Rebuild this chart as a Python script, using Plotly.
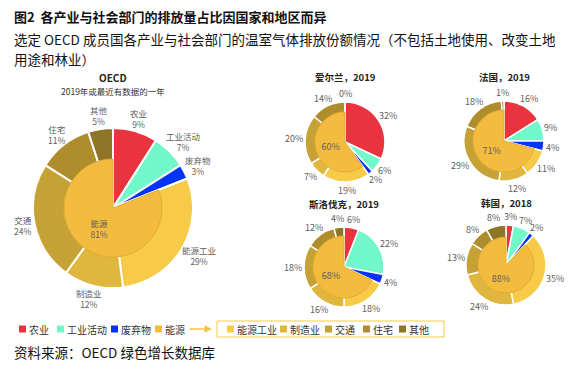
import math
import plotly.graph_objects as go

W, H = 580, 370
OFF = 8  # page body margin in the browser

cats_direct = ["农业", "工业活动", "废弃物"]
energy_name = "能源"
cats_energy = ["能源工业", "制造业", "交通", "住宅", "其他"]

oecd_direct = [9, 7, 3]
oecd_energy = [29, 12, 24, 11, 5]
ireland_direct = [32, 6, 2]
ireland_energy = [19, 7, 20, 14, 0]
france_direct = [16, 9, 4]
france_energy = [11, 12, 29, 18, 1]
slovakia_direct = [6, 22, 4]
slovakia_energy = [18, 16, 18, 12, 4]
korea_direct = [3, 7, 2]
korea_energy = [35, 24, 13, 8, 8]

col_direct = ["#E9333F", "#72F7CB", "#0433F6"]
col_energy_inner = "#F4BC3F"
col_energy = ["#F7CB47", "#E0B73E", "#C6A236", "#AF8D2D", "#8F7527"]

FONT = "Noto Sans CJK SC"
TXT = "#5E5E5E"

charts = [
    dict(title="OECD", direct=oecd_direct, energy=oecd_energy, cx=113, cy=208, r=80, ri=49, names=True, ty=77),
    dict(title="爱尔兰，2019", direct=ireland_direct, energy=ireland_energy, cx=345, cy=142, r=40, ri=30, names=False, ty=77),
    dict(title="法国，2019", direct=france_direct, energy=france_energy, cx=504, cy=141, r=40, ri=31, names=False, ty=77),
    dict(title="斯洛伐克，2019", direct=slovakia_direct, energy=slovakia_energy, cx=344, cy=267, r=40, ri=31, names=False, ty=204),
    dict(title="韩国，2018", direct=korea_direct, energy=korea_energy, cx=506, cy=265, r=40, ri=28, names=False, ty=203),
]


def px(x):
    return (x - OFF) / W


def py(y):
    return 1 - (y - OFF) / H


def dom(cx, cy, r):
    return dict(x=[px(cx - r), px(cx + r)], y=[py(cy + r), py(cy - r)])


def text_box(lines, fs):
    w = max(sum(fs if ord(ch) > 255 else 0.6 * fs for ch in ln) for ln in lines)
    h = len(lines) * fs * 1.25
    return w, h


fig = go.Figure()
annotations = []
shapes = []

for c in charts:
    outer_vals = c["direct"] + c["energy"]
    outer_labels = cats_direct + cats_energy
    fs = 8.5 if c["names"] else 9
    fig.add_trace(go.Pie(
        values=outer_vals, labels=outer_labels,
        textinfo="none", sort=False, direction="clockwise",
        rotation=0, domain=dom(c["cx"], c["cy"], c["r"]),
        marker=dict(colors=col_direct + col_energy,
                    line=dict(color="white", width=2 if c["names"] else 1.5)),
        showlegend=False, hoverinfo="label+percent",
    ))
    # outside labels at each slice's mid-angle
    total = sum(outer_vals)
    cum = 0
    gap = 3
    for n, v in zip(outer_labels, outer_vals):
        mid = (cum + v / 2) / total * 2 * math.pi
        cum += v
        dx, dy = math.sin(mid), -math.cos(mid)
        lines = [n, f"{v}%"] if c["names"] else [f"{v}%"]
        w, h = text_box(lines, fs)
        lx = c["cx"] + dx * (c["r"] + gap) + dx * w / 2
        ly = c["cy"] + dy * (c["r"] + gap) + dy * h / 2
        annotations.append(dict(x=px(lx), y=py(ly), text="<br>".join(lines), showarrow=False,
                                xanchor="center", yanchor="middle",
                                font=dict(family=FONT, size=fs, color=TXT)))
    etot = sum(c["energy"])
    inner_vals = c["direct"] + [etot]
    inner_labels = cats_direct + [energy_name]
    inner_text = ["", "", "", (f"{energy_name}<br>{etot}%" if c["names"] else f"{etot}%")]
    fig.add_trace(go.Pie(
        values=inner_vals, labels=inner_labels, text=inner_text,
        textinfo="text", textposition=["none", "none", "none", "inside"],
        insidetextorientation="horizontal",
        sort=False, direction="clockwise", rotation=0,
        domain=dom(c["cx"], c["cy"], c["ri"]),
        marker=dict(colors=["rgba(0,0,0,0)"] * 3 + [col_energy_inner],
                    line=dict(color=["rgba(0,0,0,0)"] * 3 + ["#E2AC36"], width=[0, 0, 0, 1])),
        textfont=dict(family=FONT, size=fs, color=TXT),
        showlegend=False, hoverinfo="label+percent",
    ))
    if c["names"]:
        annotations.append(dict(x=px(c["cx"]), y=py(77), text="<b>OECD</b>", showarrow=False,
                                font=dict(family=FONT, size=10, color="#222"), xanchor="center", yanchor="middle"))
        annotations.append(dict(x=px(c["cx"]), y=py(91), text="2019年或最近有数据的一年", showarrow=False,
                                font=dict(family=FONT, size=8.5, color="#333"), xanchor="center", yanchor="middle"))
    else:
        annotations.append(dict(x=px(c["cx"]), y=py(c["ty"]), text=f"<b>{c['title']}</b>", showarrow=False,
                                font=dict(family=FONT, size=9.5, color="#222"), xanchor="center", yanchor="middle"))

# Title / subtitle / source
annotations.append(dict(x=px(12), y=py(17), text="<b>图2  各产业与社会部门的排放量占比因国家和地区而异</b>",
                        showarrow=False, xanchor="left", yanchor="middle",
                        font=dict(family=FONT, size=13, color="#111")))
annotations.append(dict(x=px(12), y=py(39),
                        text="选定 OECD 成员国各产业与社会部门的温室气体排放份额情况（不包括土地使用、改变土地",
                        showarrow=False, xanchor="left", yanchor="middle",
                        font=dict(family=FONT, size=13.5, color="#111")))
annotations.append(dict(x=px(12), y=py(59), text="用途和林业）",
                        showarrow=False, xanchor="left", yanchor="middle",
                        font=dict(family=FONT, size=13.5, color="#111")))
annotations.append(dict(x=px(12), y=py(352), text="资料来源：OECD 绿色增长数据库",
                        showarrow=False, xanchor="left", yanchor="middle",
                        font=dict(family=FONT, size=13.5, color="#111")))

# Legend
leg_y = 329
leg_items = list(zip(cats_direct + [energy_name], col_direct + [col_energy_inner], [19, 57, 111, 155]))
leg_items += list(zip(cats_energy, col_energy, [227, 280, 325, 363, 399]))
for name, col, x in leg_items:
    shapes.append(dict(type="rect", xref="paper", yref="paper",
                       x0=px(x), x1=px(x + 7), y0=py(leg_y + 3.5), y1=py(leg_y - 3.5),
                       fillcolor=col, line=dict(width=0)))
    annotations.append(dict(x=px(x + 8), y=py(leg_y), text=name, showarrow=False,
                            xanchor="left", yanchor="middle",
                            font=dict(family=FONT, size=10, color="#333")))
shapes.append(dict(type="rect", xref="paper", yref="paper",
                   x0=px(217), x1=px(444), y0=py(337), y1=py(321),
                   line=dict(color="#F7CB47", width=1), fillcolor="rgba(0,0,0,0)"))
annotations.append(dict(x=px(212), y=py(leg_y), ax=-24, ay=0, text="", showarrow=True,
                        arrowhead=2, arrowsize=1, arrowwidth=1.5, arrowcolor="#F7C543",
                        xref="paper", yref="paper"))

fig.update_layout(
    width=W, height=H, margin=dict(l=0, r=0, t=0, b=0),
    paper_bgcolor="white", plot_bgcolor="white",
    annotations=annotations, shapes=shapes,
    font=dict(family=FONT),
)

fig.write_html("out.html")
